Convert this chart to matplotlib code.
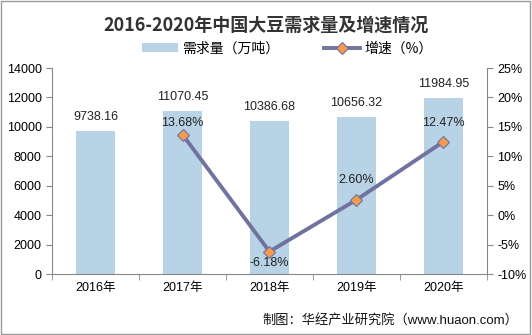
import matplotlib
matplotlib.use("Agg")
import matplotlib.pyplot as plt
from matplotlib.patches import Rectangle, Patch
from matplotlib.lines import Line2D

plt.rcParams['font.family'] = ['Liberation Sans', 'Noto Sans CJK SC', 'DejaVu Sans']

years = ['2016年', '2017年', '2018年', '2019年', '2020年']
demand = [9738.16, 11070.45, 10386.68, 10656.32, 11984.95]
growth_years = ['2017年', '2018年', '2019年', '2020年']
growth = [13.68, -6.18, 2.60, 12.47]

bar_color = '#B8D3E5'
line_color = '#7073A0'
marker_color = '#F59A4F'

fig = plt.figure(figsize=(5.32, 3.35), dpi=100)
ax = fig.add_axes([0.098, 0.182, 0.817, 0.615])
x = list(range(len(years)))
ax.bar(x, demand, width=0.45, color=bar_color, zorder=2)
ax.set_ylim(0, 14000)
ax.set_yticks(range(0, 14001, 2000))
ax.set_xlim(-0.5, len(years) - 0.5)
ax.set_xticks(x)
ax.set_xticklabels(years, fontsize=9)
ax.set_xticks([i - 0.5 for i in range(len(years) + 1)], minor=True)
ax.tick_params(axis='y', labelsize=9, length=4, color='#888888')
ax.tick_params(axis='x', which='major', length=0, pad=6)
ax.tick_params(axis='x', which='minor', length=4, color='#888888')
for s in ['top', 'right']:
    ax.spines[s].set_visible(False)
for s in ['left', 'bottom']:
    ax.spines[s].set_color('#888888')
for xi, v in zip(x, demand):
    ax.text(xi, v + 950, f'{v:.2f}', ha='center', va='center', fontsize=9, color='#222222')

ax2 = ax.twinx()
gx = [years.index(y) for y in growth_years]
ax2.plot(gx, growth, color=line_color, lw=2.8, marker='D', ms=6,
         markerfacecolor=marker_color, markeredgecolor=line_color, markeredgewidth=0.8, zorder=3)
ax2.set_ylim(-10, 25)
ax2.set_yticks(range(-10, 26, 5))
ax2.set_yticklabels([f'{t}%' for t in range(-10, 26, 5)])
ax2.tick_params(axis='y', labelsize=9, length=4, color='#888888')
for s in ['top', 'left', 'bottom']:
    ax2.spines[s].set_visible(False)
ax2.spines['right'].set_color('#888888')
offsets = [1.9, -2.0, 3.3, 3.2]
for xi, v, dy in zip(gx, growth, offsets):
    ax2.text(xi, v + dy, f'{v:.2f}%', ha='center', va='center', fontsize=9, color='#222222')

fig.text(0.5, 0.925, '2016-2020年中国大豆需求量及增速情况', ha='center', va='center',
         fontsize=13, fontweight='bold', color='#333333',
         family=['Noto Sans CJK SC', 'DejaVu Sans'])

handles = [Patch(facecolor=bar_color, edgecolor='none'),
           Line2D([0], [0], color=line_color, lw=2.8, marker='D', ms=6,
                  markerfacecolor=marker_color, markeredgecolor=line_color, markeredgewidth=0.8)]
fig.legend(handles, ['需求量（万吨）', '增速（%）'], loc='center', bbox_to_anchor=(0.54, 0.855),
           ncol=2, frameon=False, handlelength=2.6, handleheight=0.6,
           columnspacing=3.2, handletextpad=0.3,
           prop={'family': ['Noto Sans CJK SC', 'DejaVu Sans'], 'size': 10})

fig.text(0.975, 0.045, '制图：华经产业研究院（www.huaon.com）', ha='right', va='center',
         fontsize=9.5, color='#111111')

fig.patches.append(Rectangle((0.002, 0.003), 0.995, 0.994, transform=fig.transFigure,
                             fill=False, edgecolor='#999999', lw=1))

fig.savefig('out.png', dpi=100)
